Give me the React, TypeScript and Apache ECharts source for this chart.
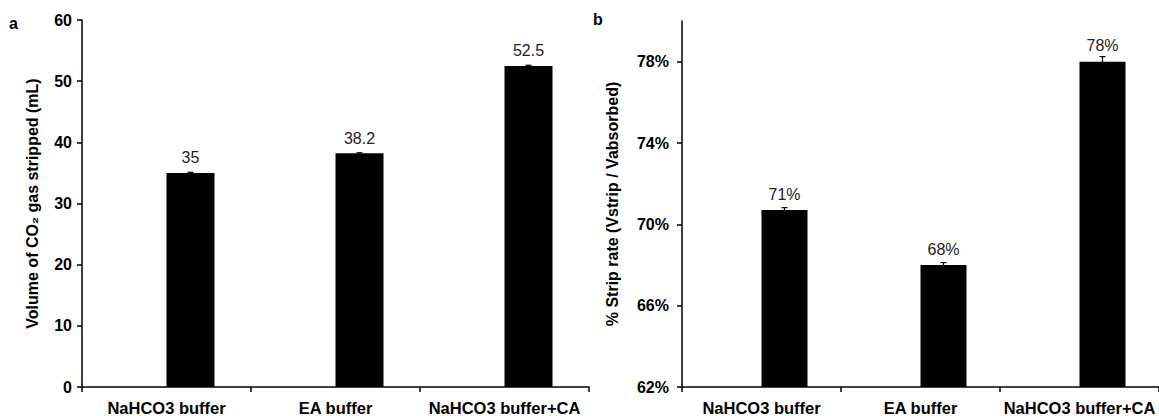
import React, { useEffect, useRef } from "react";
import * as echarts from "echarts";

const categories = ["NaHCO3 buffer", "EA buffer", "NaHCO3 buffer+CA"];
const volumeValues = [35, 38.2, 52.5];
const volumeErrors = [0.1, 0.1, 0.1];
const stripValues = [70.7, 68.0, 78.0];
const stripErrors = [0.12, 0.12, 0.25];
const volumeTicks = { min: 0, max: 60, interval: 10 };
const stripTicks = { min: 62, max: 80, interval: 4 };

const FONT = "'Liberation Sans', Arial, sans-serif";

function errorSeries(values: number[], errors: number[], gridIndex: number, off: number) {
  return {
    type: "custom",
    xAxisIndex: gridIndex,
    yAxisIndex: gridIndex,
    z: 5,
    silent: true,
    data: values.map((v, i) => [i, v, errors[i]]),
    encode: { x: 0, y: 1 },
    renderItem: (params: any, api: any) => {
      const x = api.value(0);
      const y = api.value(1);
      const e = api.value(2);
      const top = api.coord([x, y + e]);
      const bot = api.coord([x, y - e]);
      const cx = top[0] + off;
      return {
        type: "group",
        children: [
          { type: "line", shape: { x1: cx, y1: top[1], x2: cx, y2: bot[1] }, style: { stroke: "#000", lineWidth: 1.2 } },
          { type: "line", shape: { x1: cx - 3, y1: top[1], x2: cx + 3, y2: top[1] }, style: { stroke: "#000", lineWidth: 1.2 } },
        ],
      };
    },
  };
}

export default function App() {
  const ref = useRef<HTMLDivElement>(null);
  useEffect(() => {
    if (!ref.current) return;
    const chart = echarts.init(ref.current, null, { renderer: "svg" });
    const axisLineStyle = { color: "#000", width: 1.5 };
    const xAxisBase = (gridIndex: number) => ({
      type: "category",
      gridIndex,
      data: categories,
      axisLine: { lineStyle: axisLineStyle },
      axisTick: { show: true, length: 5, interval: 0, lineStyle: axisLineStyle },
      axisLabel: { interval: 0, color: "#000", fontFamily: FONT, fontWeight: "bold", fontSize: 16.5, margin: 12 },
      splitLine: { show: false },
    });
    const option: any = {
      animation: false,
      backgroundColor: "#fff",
      textStyle: { fontFamily: FONT },
      grid: [
        { left: 82, right: 570, top: 20, bottom: 26 },
        { left: 682, right: -12, top: 21, bottom: 28 },
      ],
      xAxis: [xAxisBase(0), xAxisBase(1)],
      yAxis: [
        {
          type: "value",
          gridIndex: 0,
          min: volumeTicks.min,
          max: volumeTicks.max,
          interval: volumeTicks.interval,
          name: "Volume of CO\u2082 gas stripped (mL)",
          nameLocation: "middle",
          nameGap: 42,
          nameTextStyle: { color: "#000", fontFamily: FONT, fontWeight: "bold", fontSize: 16 },
          axisLine: { show: true, lineStyle: axisLineStyle },
          axisTick: { show: true, length: 5, lineStyle: axisLineStyle },
          axisLabel: { color: "#000", fontFamily: FONT, fontWeight: "bold", fontSize: 16, margin: 10 },
          splitLine: { show: false },
        },
        {
          type: "value",
          gridIndex: 1,
          min: stripTicks.min,
          max: stripTicks.max,
          interval: stripTicks.interval,
          name: "% Strip rate (Vstrip / Vabsorbed)",
          nameLocation: "middle",
          nameGap: 62,
          nameTextStyle: { color: "#000", fontFamily: FONT, fontWeight: "bold", fontSize: 16 },
          axisLine: { show: true, lineStyle: axisLineStyle },
          axisTick: { show: true, length: 5, lineStyle: axisLineStyle },
          axisLabel: {
            color: "#000",
            fontFamily: FONT,
            fontWeight: "bold",
            fontSize: 16,
            margin: 13,
            showMaxLabel: false,
            formatter: (v: number) => (v >= 80 ? "" : v + "%"),
          },
          splitLine: { show: false },
        },
      ],
      series: [
        { type: "bar", xAxisIndex: 0, yAxisIndex: 0, barWidth: 48, barGap: "0%", data: categories.map(() => null), silent: true },
        {
          type: "bar",
          xAxisIndex: 0,
          yAxisIndex: 0,
          barWidth: 48,
          barGap: "0%",
          data: volumeValues,
          itemStyle: { color: "#000" },
          label: { show: true, position: "top", distance: 7, color: "#222", fontFamily: FONT, fontSize: 16 },
        },
        { type: "bar", xAxisIndex: 1, yAxisIndex: 1, barWidth: 46, barGap: "0%", data: categories.map(() => null), silent: true },
        {
          type: "bar",
          xAxisIndex: 1,
          yAxisIndex: 1,
          barWidth: 46,
          barGap: "0%",
          data: stripValues,
          itemStyle: { color: "#000" },
          label: {
            show: true,
            position: "top",
            distance: 8,
            color: "#222",
            fontFamily: FONT,
            fontSize: 16,
            formatter: (p: any) => Math.round(p.value) + "%",
          },
        },
        errorSeries(volumeValues, volumeErrors, 0, 24),
        errorSeries(stripValues, stripErrors, 1, 23),
      ],
      graphic: [
        { type: "text", left: 9, top: 15, style: { text: "a", fill: "#000", font: `bold 16px ${FONT}` } },
        { type: "text", left: 593, top: 11, style: { text: "b", fill: "#000", font: `bold 16px ${FONT}` } },
      ],
    };
    chart.setOption(option);
    return () => chart.dispose();
  }, []);
  return (
    <div
      ref={ref}
      style={{ position: "absolute", left: 0, top: 0, width: 1159, height: 416, overflow: "hidden" }}
    />
  );
}
